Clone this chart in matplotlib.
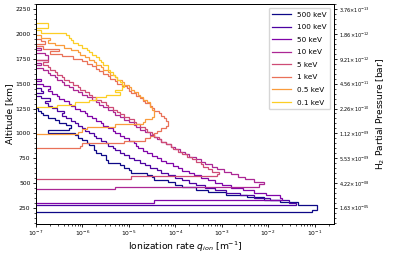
import numpy as np
import matplotlib
matplotlib.use('Agg')
import matplotlib.pyplot as plt
from matplotlib.ticker import AutoMinorLocator

# energias dos eletrons (legenda)
energias = ['500 keV', '100 keV', '50 keV', '10 keV', '5 keV', '1 keV', '0.5 keV', '0.1 keV']

# altitude (km) da borda inferior de cada perfil, bins de 25 km
base_alt = [205, 277, 300, 438, 540, 852, 990, 1265]
dz = 25

# log10 da taxa de ionizacao por bin, de baixo para cima (None = fora do grafico)
logq_500 = [-1.05, -0.95, -0.95, -1.35, -1.75, -2.1, -2.45, -2.9, -3.3, -3.55,
            -3.85, -4.0, -4.15, -4.45, -4.5, -4.6, -4.95, -5.0, -5.1, -5.2,
            -5.45, -5.5, -5.5, -5.6, -5.7, -5.75, -5.75, -5.85, -5.9, -6.0,
            -6.1, -6.15, -6.75, -6.3, -6.25, -6.35, -6.5, -6.6, -6.75, -6.85,
            -6.9, -6.95]
logq_100 = [-1.4, -1.55, -1.95, -2.3, -2.6, -2.9, -3.15, -3.35, -3.55, -3.7,
            -3.85, -4.0, -4.15, -4.3, -4.4, -4.55, -4.65, -4.75, -4.9, -5.0,
            -5.1, -5.2, -5.3, -5.35, -5.45, -5.5, -5.6, -5.7, -5.75, -5.85,
            -5.95, -6.0, -6.1, -6.15, -6.25, -6.35, -6.45, -6.4, -6.55, -6.65,
            -6.75, -6.8, -6.7, -6.9, None, -6.85, -6.9]
logq_50 = [-4.45, -1.7, -1.75, -2.05, -2.3, -2.55, -2.8, -3.0, -3.15, -3.3,
           -3.45, -3.6, -3.7, -3.85, -3.95, -4.05, -4.2, -4.3, -4.4, -4.5,
           -4.6, -4.7, -4.8, -4.85, -4.9, -5.0, -5.1, -5.2, -5.3, -5.35,
           -5.45, -5.55, -5.6, -5.7, -5.8, -5.9, -5.95, -6.05, -6.15, -6.25,
           -6.3, -6.4, -6.5, -6.55, -6.65, -6.75, -6.7, -6.85, None, -6.9]
logq_10 = [-5.3, -2.2, -2.1, -2.3, -2.5, -2.65, -2.8, -2.95, -3.1, -3.2,
           -3.35, -3.45, -3.55, -3.7, -3.8, -3.9, -4.0, -4.1, -4.2, -4.3,
           -4.4, -4.45, -4.55, -4.65, -4.75, -4.85, -4.9, -5.0, -5.1, -5.2,
           -5.3, -5.35, -5.45, -5.55, -5.65, -5.7, -5.8, -5.9, -6.0, -6.1,
           -6.2, -6.3, -6.4, -6.45, -6.55, -6.6, -6.7, -6.75, -6.85, None,
           -6.9, None, -6.75, -6.75, -6.8, None, -6.9]
logq_5 = [-4.95, -3.1, -3.05, -3.2, -3.3, -3.4, -3.45, -3.55, -3.65, -3.75,
          -3.85, -3.95, -4.05, -4.1, -4.2, -4.3, -4.35, -4.45, -4.5, -4.6,
          -4.65, -4.75, -4.85, -4.9, -5.0, -5.1, -5.2, -5.25, -5.35, -5.45,
          -5.5, -5.6, -5.7, -5.8, -5.85, -5.95, -6.05, -6.1, -6.2, -6.3,
          -6.4, -6.45, -6.55, -6.6, -6.7, -6.75, -6.85, -6.75]
logq_1 = [-6.05, -6.0, -5.1, -4.65, -4.55, -4.45, -4.4, -4.3, -4.2, -4.15,
          -4.15, -4.2, -4.25, -4.3, -4.35, -4.45, -4.5, -4.55, -4.65, -4.7,
          -4.75, -4.85, -4.95, -5.0, -5.05, -5.15, -5.25, -5.3, -5.4, -5.45,
          -5.55, -5.65, -5.7, -5.8, -5.9, -6.0, -6.2, -6.45, -6.7, -6.5,
          -6.85, None, -6.8, -6.9]
logq_05 = [-6.1, -6.0, -5.9, -5.3, -4.7, -4.65, -4.5, -4.45, -4.45, -4.45,
           -4.5, -4.55, -4.55, -4.6, -4.7, -4.75, -4.8, -4.9, -4.95, -5.0,
           -5.1, -5.15, -5.25, -5.3, -5.4, -5.45, -5.55, -5.6, -5.7, -5.75,
           -5.85, -5.95, -6.05, -6.1, -6.25, -6.4, -6.6, -6.75, -6.7, -6.9]
logq_01 = [-6.55, -6.15, -5.85, -5.7, -5.5, -5.2, -5.3, -5.15, -5.1, -5.15,
           -5.2, -5.25, -5.3, -5.35, -5.4, -5.45, -5.45, -5.55, -5.6, -5.65,
           -5.7, -5.8, -5.85, -5.9, -6.0, -6.1, -6.2, -6.25, -6.3, -6.35,
           -6.9, None, -6.75, -6.75]

perfis = [logq_500, logq_100, logq_50, logq_10, logq_5, logq_1, logq_05, logq_01]

# eixo da direita: pressao parcial de H2 nas altitudes dos ticks
alt_ticks = [250, 500, 750, 1000, 1250, 1500, 1750, 2000, 2250]
pressao = [r'$1.63{\times}10^{-05}$', r'$4.22{\times}10^{-08}$', r'$5.53{\times}10^{-09}$',
           r'$1.12{\times}10^{-09}$', r'$2.26{\times}10^{-10}$', r'$4.56{\times}10^{-11}$',
           r'$9.21{\times}10^{-12}$', r'$1.86{\times}10^{-12}$', r'$3.76{\times}10^{-13}$']

cores = plt.cm.plasma(np.linspace(0, 0.9, len(energias)))

fig = plt.figure(figsize=(3.96, 2.57), dpi=100)
ax = fig.add_axes([0.091, 0.130, 0.752, 0.853])

for nome, logq, z0, cor in zip(energias, perfis, base_alt, cores):
    # zero abaixo e acima do perfil para fechar as linhas horizontais
    q = [0.0] + [10**v if v is not None else 0.0 for v in logq] + [0.0]
    bordas = z0 - dz + dz*np.arange(len(q) + 1)
    ax.stairs(q, bordas, orientation='horizontal', baseline=None,
              color=cor, lw=0.9, label=nome)

ax.set_xscale('log')
ax.set_xlim(1e-7, 0.26)
ax.set_ylim(90, 2300)
ax.set_yticks(alt_ticks)
ax.yaxis.set_minor_locator(AutoMinorLocator())
ax.tick_params(labelsize=4.3, length=2.5, width=0.6, pad=1.5)
ax.tick_params(which='minor', length=1.5, width=0.5)
ax.set_xlabel(r'Ionization rate $q_{ion}$ [m$^{-1}$]', fontsize=6.6, labelpad=1)
ax.set_ylabel('Altitude [km]', fontsize=6.6, labelpad=1)
ax.legend(loc='upper right', fontsize=5.2, handlelength=2.6, labelspacing=0.9,
          borderpad=0.5)

ax2 = ax.twinx()
ax2.set_ylim(ax.get_ylim())
ax2.set_yticks(alt_ticks)
ax2.set_yticklabels(pressao)
ax2.yaxis.set_minor_locator(AutoMinorLocator())
ax2.tick_params(labelsize=3.6, length=2.5, width=0.6, pad=1.5)
ax2.tick_params(which='minor', length=1.5, width=0.5)
ax2.set_ylabel(r'H$_2$ Partial Pressure [bar]', fontsize=6.6, labelpad=3)

for a in (ax, ax2):
    for s in a.spines.values():
        s.set_linewidth(0.7)

fig.savefig('out.png', dpi=100)
